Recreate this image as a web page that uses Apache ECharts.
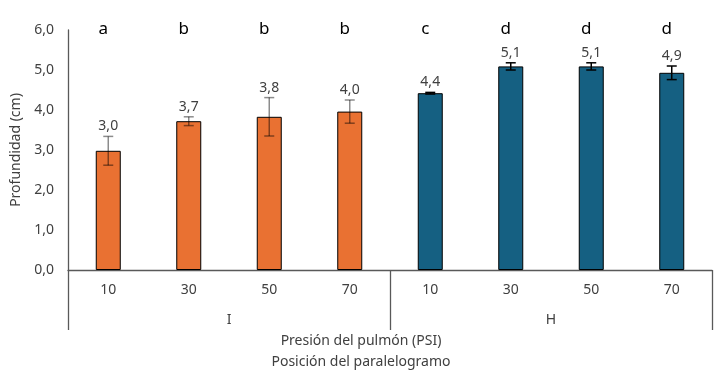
<!DOCTYPE html>
<html>
<head>
<meta charset="utf-8">
<script src="https://cdn.jsdelivr.net/npm/echarts@6/dist/echarts.min.js"></script>
<style>html,body{margin:0;padding:0;background:#fff}#c{width:722px;height:371px}</style>
</head>
<body>
<div id="c"></div>
<script>
var pressures = ['10','30','50','70','10','30','50','70'];
var positions = ['I','H'];
var depth = [2.98, 3.72, 3.83, 3.96, 4.42, 5.09, 5.09, 4.93];
var errs = [0.36, 0.11, 0.48, 0.29, 0.02, 0.09, 0.09, 0.17];
var letters = ['a','b','b','b','c','d','d','d'];
var groupOf = [0,0,0,0,1,1,1,1];

var FONT = '"Noto Sans", sans-serif';
var barColors = ['#E97132', '#156082'];
var errColors = ['rgba(0,0,0,0.45)', '#000000'];

function fmt(v){ return v.toFixed(1).replace('.', ','); }

var chart = echarts.init(document.getElementById('c'));
var errData = depth.map(function(v,i){ return [i, v - errs[i], v + errs[i], v]; });

chart.setOption({
  animation: false,
  grid: {left: 68, right: 10, top: 30, bottom: 101},
  xAxis: [{
    type: 'category', data: pressures, position: 'bottom',
    axisLine: {show: true, lineStyle: {color: '#595959', width: 1.3}},
    axisTick: {show: false},
    axisLabel: {color: '#404040', fontSize: 14, fontFamily: FONT, margin: 13}
  }, {
    type: 'category', data: positions, position: 'bottom',
    axisLine: {show: false},
    axisTick: {show: true, length: 60, inside: false, lineStyle: {color: '#595959', width: 1.3}},
    axisLabel: {color: '#404040', fontSize: 14, fontFamily: FONT, margin: 43}
  }],
  yAxis: {
    type: 'value', min: 0, max: 6, interval: 1,
    axisLine: {show: true, lineStyle: {color: '#595959', width: 1.3}},
    axisTick: {show: false},
    splitLine: {show: false},
    axisLabel: {color: '#404040', fontSize: 14, fontFamily: FONT, margin: 14,
      formatter: function(v){ return fmt(v); }},
    name: 'Profundidad (cm)', nameLocation: 'middle', nameGap: 43, nameRotate: 90,
    nameTextStyle: {color: '#404040', fontSize: 14, fontFamily: FONT}
  },
  graphic: [{
    type: 'text', left: 'center', top: 334, z: 10,
    style: {text: 'Presión del pulmón (PSI)', fill: '#404040', fontSize: 14, fontFamily: FONT, textAlign: 'center'}
  }, {
    type: 'text', left: 'center', top: 355, z: 10,
    style: {text: 'Posición del paralelogramo', fill: '#404040', fontSize: 14, fontFamily: FONT, textAlign: 'center'}
  }],
  series: [{
    type: 'bar', data: depth.map(function(v,i){
      return {value: v, itemStyle: {color: barColors[groupOf[i]]}};
    }),
    barWidth: 25, xAxisIndex: 0,
    itemStyle: {borderColor: '#000', borderWidth: 1}
  }, {
    type: 'custom', xAxisIndex: 0, z: 5,
    data: errData,
    renderItem: function(params, api){
      var i = api.value(0);
      var lo = api.coord([i, api.value(1)]);
      var hi = api.coord([i, api.value(2)]);
      var c = errColors[groupOf[i]];
      var w = 5;
      var st = {stroke: c, lineWidth: 1.5};
      return {type: 'group', children: [
        {type: 'line', shape: {x1: hi[0], y1: hi[1], x2: lo[0], y2: lo[1]}, style: st},
        {type: 'line', shape: {x1: hi[0]-w, y1: hi[1], x2: hi[0]+w, y2: hi[1]}, style: st},
        {type: 'line', shape: {x1: lo[0]-w, y1: lo[1], x2: lo[0]+w, y2: lo[1]}, style: st},
        {type: 'text', style: {text: fmt(api.value(3)), x: hi[0], y: hi[1] - 3,
          textAlign: 'center', textVerticalAlign: 'bottom', fill: '#404040', fontSize: 14, fontFamily: FONT}}
      ]};
    }
  }, {
    type: 'custom', xAxisIndex: 0, z: 5,
    data: letters.map(function(l,i){ return [i, 6]; }),
    renderItem: function(params, api){
      var i = api.value(0);
      var p = api.coord([i, api.value(1)]);
      return {type: 'text', style: {text: letters[i], x: p[0] - 5, y: p[1] - 1,
        textAlign: 'center', textVerticalAlign: 'middle', fill: '#000', fontSize: 17, fontFamily: FONT}};
    }
  }]
});
</script>
</body>
</html>
